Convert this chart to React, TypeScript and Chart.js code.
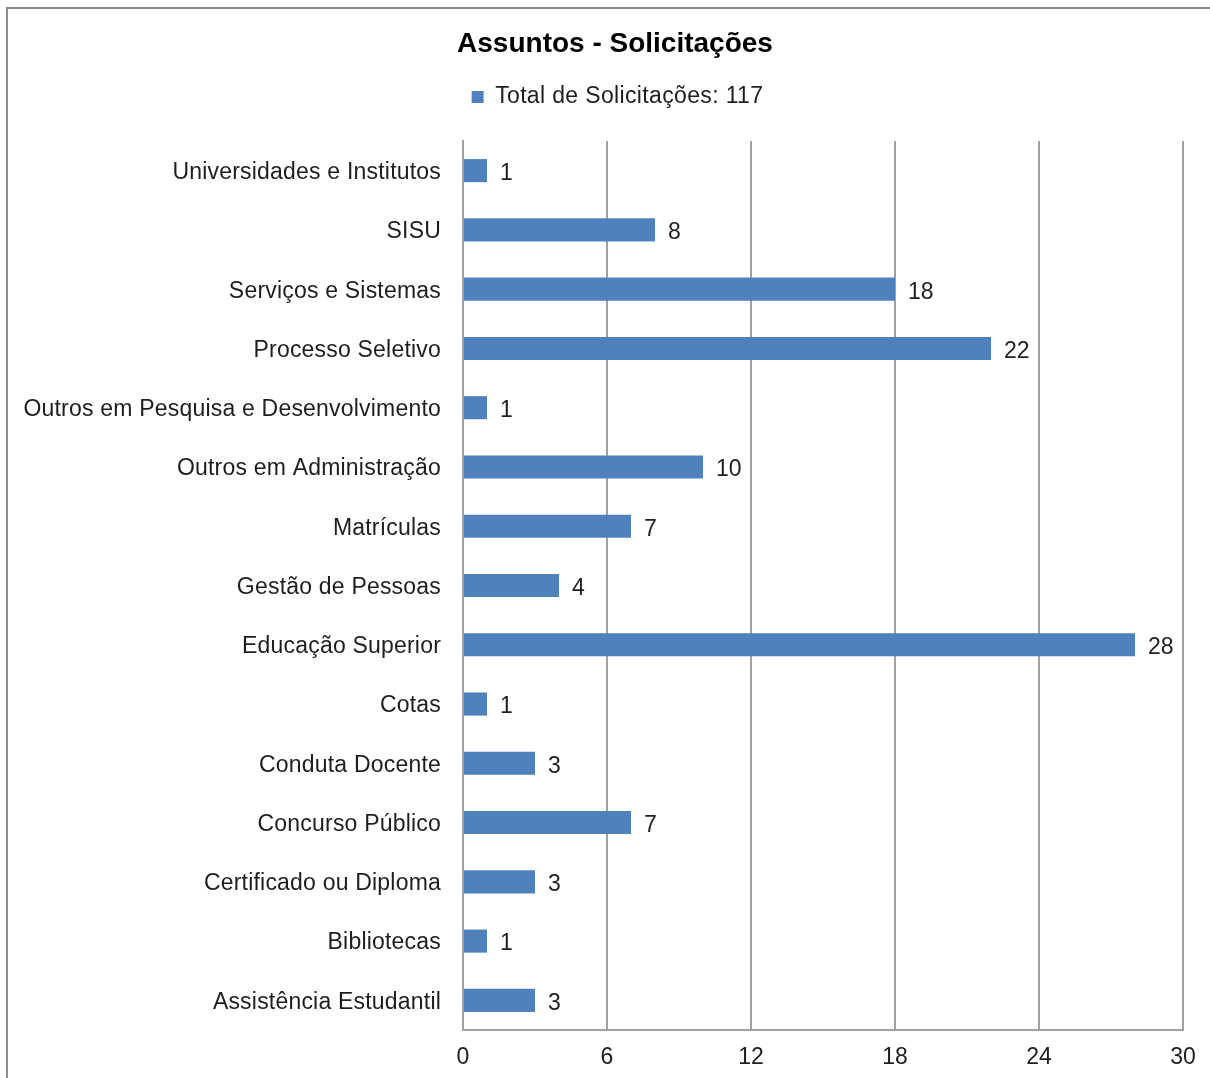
import React, { useEffect, useRef } from "react";
import { Chart, registerables } from "chart.js";

Chart.register(...registerables);

const categories = [
  "Universidades e Institutos",
  "SISU",
  "Serviços e Sistemas",
  "Processo Seletivo",
  "Outros em Pesquisa e Desenvolvimento",
  "Outros em Administração",
  "Matrículas",
  "Gestão de Pessoas",
  "Educação Superior",
  "Cotas",
  "Conduta Docente",
  "Concurso Público",
  "Certificado ou Diploma",
  "Bibliotecas",
  "Assistência Estudantil",
];
const values = [1, 8, 18, 22, 1, 10, 7, 4, 28, 1, 3, 7, 3, 1, 3];
const seriesLabel = "Total de Solicitações: 117";
const chartTitle = "Assuntos - Solicitações";

const FONT = "'Liberation Sans', Arial, sans-serif";
const TEXT = "#1e1e1e";
const GRID = "#a0a0a0";
const BAR = "#4F81BD";

function patch(obj: any, method: string, setup: (ctx: CanvasRenderingContext2D) => void, ctx: any) {
  if (!obj || obj["__p_" + method]) return;
  const orig = obj[method].bind(obj);
  obj[method] = (...args: any[]) => {
    ctx.save();
    setup(ctx);
    orig(...args);
    ctx.restore();
  };
  obj["__p_" + method] = true;
}

const textStyle = {
  id: "textStyle",
  beforeLayout(chart: any) {
    chart.ctx.letterSpacing = "0.35px";
  },
  afterLayout(chart: any) {
    const ctx = chart.ctx;
    patch(chart.titleBlock, "draw", (c) => {
      (c as any).letterSpacing = "0px";
      c.translate(23.5, 2);
    }, ctx);
    patch(chart.legend, "draw", (c) => {
      (c as any).letterSpacing = "0.35px";
      c.translate(26, 2);
    }, ctx);
    patch(chart.scales.x, "drawLabels", (c) => {
      (c as any).letterSpacing = "0px";
      c.translate(0, 1);
    }, ctx);
    patch(chart.scales.y, "drawLabels", (c) => {
      (c as any).letterSpacing = "0.2px";
      c.translate(0, 2);
    }, ctx);
  },
};

const dataLabels = {
  id: "dataLabels",
  afterDatasetsDraw(chart: any) {
    const ctx = chart.ctx;
    const meta = chart.getDatasetMeta(0);
    ctx.save();
    ctx.letterSpacing = "0px";
    ctx.font = `23px ${FONT}`;
    ctx.fillStyle = TEXT;
    ctx.textAlign = "left";
    ctx.textBaseline = "middle";
    meta.data.forEach((el: any, i: number) => {
      ctx.fillText(String(chart.data.datasets[0].data[i]), el.x + 13, el.y + 3);
    });
    ctx.restore();
  },
};

export default function App() {
  const ref = useRef<HTMLCanvasElement>(null);
  useEffect(() => {
    if (!ref.current) return;
    const chart = new Chart(ref.current, {
      type: "bar",
      data: {
        labels: categories,
        datasets: [
          {
            label: seriesLabel,
            data: values,
            backgroundColor: BAR,
            borderWidth: 0,
            barPercentage: 0.39,
            categoryPercentage: 1,
          },
        ],
      },
      options: {
        indexAxis: "y",
        animation: false,
        responsive: false,
        maintainAspectRatio: false,
        layout: { padding: { left: 0, right: 47, top: 0, bottom: 8 } },
        plugins: {
          title: {
            display: true,
            text: chartTitle,
            color: "#000",
            font: { family: FONT, size: 28, weight: "bold", lineHeight: 1.2 },
            padding: { top: 25.2, bottom: 14.7 },
          },
          legend: {
            display: true,
            labels: {
              color: TEXT,
              font: { family: FONT, size: 23 },
              boxWidth: 12,
              boxHeight: 12,
              padding: 10,
            },
          },
          tooltip: { enabled: false },
        },
        scales: {
          x: {
            type: "linear",
            position: "bottom",
            min: 0,
            max: 30,
            ticks: {
              stepSize: 6,
              color: TEXT,
              font: { family: FONT, size: 23 },
              padding: 13,
            },
            grid: { color: GRID, lineWidth: 2, drawTicks: false },
            border: { display: true, color: GRID, width: 2 },
            afterFit(axis: any) {
              axis.height = 40;
            },
          },
          xTop: {
            type: "linear",
            position: "top",
            display: true,
            ticks: { display: false },
            grid: { display: false, drawTicks: false },
            border: { display: false },
            afterFit(axis: any) {
              axis.height = 24.5;
            },
          },
          y: {
            type: "category",
            ticks: {
              color: TEXT,
              font: { family: FONT, size: 23 },
              padding: 22,
            },
            grid: { display: false, drawTicks: false },
            border: { display: true, color: GRID, width: 2 },
            afterFit(axis: any) {
              axis.width = 463;
            },
          },
        },
      },
      plugins: [textStyle, dataLabels],
    });
    return () => chart.destroy();
  }, []);

  return (
    <div>
      <div
        style={{
          position: "fixed",
          left: 6,
          top: 7,
          width: 1260,
          height: 1120,
          border: "2px solid #8c8c8c",
          boxSizing: "border-box",
          background: "#fff",
        }}
      />
      <canvas
        ref={ref}
        width={1230}
        height={1078}
        style={{ position: "fixed", left: 0, top: 0, width: 1230, height: 1078 }}
      />
    </div>
  );
}
